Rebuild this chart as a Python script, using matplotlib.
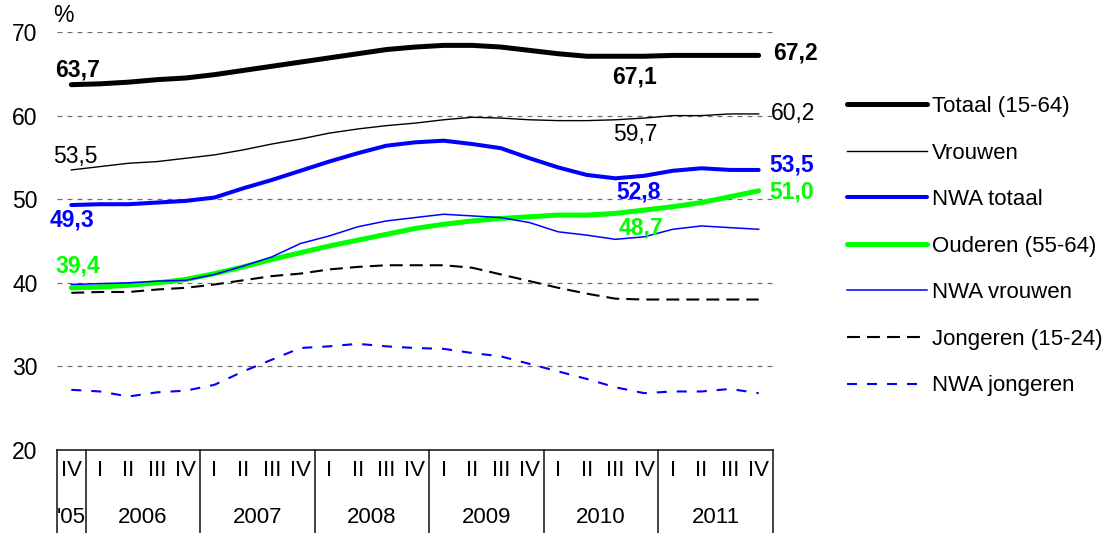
import matplotlib.pyplot as plt
import numpy as np

plt.rcParams['font.family'] = ['Liberation Sans', 'DejaVu Sans']

# kwartalen IV 2005 t/m IV 2011
quarters = ['IV'] + ['I', 'II', 'III', 'IV'] * 6
years = ["'05", '2006', '2007', '2008', '2009', '2010', '2011']

totaal = [63.7, 63.8, 64.0, 64.3, 64.5, 64.9, 65.4, 65.9, 66.4, 66.9, 67.4, 67.9, 68.2,
          68.4, 68.4, 68.2, 67.8, 67.4, 67.1, 67.1, 67.1, 67.2, 67.2, 67.2, 67.2]
vrouwen = [53.5, 53.9, 54.3, 54.5, 54.9, 55.3, 55.9, 56.6, 57.2, 57.9, 58.4, 58.8, 59.1,
           59.5, 59.8, 59.7, 59.5, 59.4, 59.4, 59.5, 59.7, 60.0, 60.0, 60.2, 60.2]
nwa_totaal = [49.3, 49.4, 49.4, 49.6, 49.8, 50.2, 51.3, 52.3, 53.4, 54.5, 55.5, 56.4, 56.8,
              57.0, 56.6, 56.1, 54.9, 53.8, 52.9, 52.5, 52.8, 53.4, 53.7, 53.5, 53.5]
ouderen = [39.4, 39.5, 39.7, 40.0, 40.4, 41.1, 41.9, 42.8, 43.6, 44.4, 45.1, 45.8, 46.5,
           47.0, 47.4, 47.7, 47.9, 48.1, 48.1, 48.3, 48.7, 49.1, 49.6, 50.3, 51.0]
nwa_vrouwen = [39.8, 39.9, 40.0, 40.2, 40.3, 41.0, 42.0, 43.1, 44.7, 45.6, 46.7, 47.4, 47.8,
               48.2, 48.0, 47.8, 47.2, 46.1, 45.7, 45.2, 45.5, 46.4, 46.8, 46.6, 46.4]
jongeren = [38.8, 38.9, 38.9, 39.2, 39.4, 39.8, 40.3, 40.8, 41.1, 41.6, 41.9, 42.1, 42.1,
            42.1, 41.8, 41.0, 40.2, 39.4, 38.7, 38.1, 38.0, 38.0, 38.0, 38.0, 38.0]
nwa_jongeren = [27.2, 27.0, 26.4, 26.9, 27.1, 27.8, 29.4, 30.8, 32.2, 32.4, 32.7, 32.4, 32.2,
                32.1, 31.6, 31.2, 30.3, 29.4, 28.5, 27.5, 26.8, 27.0, 27.0, 27.3, 26.8]

BLUE = '#0000ff'
GREEN = '#00ff00'

x = np.arange(len(quarters))

fig = plt.figure(figsize=(11.12, 5.33), dpi=100)
ax = fig.add_axes([57/1112, 1-450/533, (773-57)/1112, (450-32)/533])

ax.plot(x, totaal, color='black', lw=3.6, label='Totaal (15-64)', solid_capstyle='round')
ax.plot(x, vrouwen, color='black', lw=1.0, label='Vrouwen')
ax.plot(x, nwa_totaal, color=BLUE, lw=2.9, label='NWA totaal', solid_capstyle='round')
ax.plot(x, ouderen, color=GREEN, lw=3.6, label='Ouderen (55-64)', solid_capstyle='round')
ax.plot(x, nwa_vrouwen, color=BLUE, lw=1.1, label='NWA vrouwen')
ax.plot(x, jongeren, color='black', lw=1.5, dashes=(6.2, 3.4), label='Jongeren (15-24)')
ax.plot(x, nwa_jongeren, color=BLUE, lw=1.5, dashes=(4.8, 4.8), label='NWA jongeren')

ax.set_xlim(-0.5, len(x) - 0.5)
ax.set_ylim(20, 70)
ax.set_yticks(range(20, 71, 10))
ax.set_xticks([])
ax.tick_params(axis='y', length=0, pad=14, labelsize=16.5)
for s in ax.spines.values():
    s.set_visible(False)
ax.set_axisbelow(True)
ax.yaxis.grid(True, color='#707070', lw=0.9, linestyle=(0, (4, 4)))

fig.text(63/1112, 1-16/533, '%', fontsize=16.5, ha='center', va='center')

# waardelabels
bold = dict(fontsize=16.5, fontweight='bold', va='center')
ax.text(0.21, 65.45, '63,7', color='black', ha='center', **bold)
ax.text(0.14, 55.05, '53,5', color='black', ha='center', fontsize=16.5, va='center')
ax.text(0.03, 47.5, '49,3', color=BLUE, ha='center', **bold)
ax.text(0.24, 42.0, '39,4', color=GREEN, ha='center', **bold)
ax.text(19.65, 64.6, '67,1', color='black', ha='center', **bold)
ax.text(19.7, 57.7, '59,7', color='black', ha='center', fontsize=16.5, va='center')
ax.text(19.8, 50.9, '52,8', color=BLUE, ha='center', **bold)
ax.text(19.9, 46.55, '48,7', color=GREEN, ha='center', **bold)
ax.text(24.51, 67.5, '67,2', color='black', ha='left', **bold)
ax.text(24.44, 60.3, '60,2', color='black', ha='left', fontsize=16.5, va='center')
ax.text(24.38, 54.1, '53,5', color=BLUE, ha='left', **bold)
ax.text(24.38, 50.9, '51,0', color=GREEN, ha='left', **bold)

# tabel onder de grafiek
tr = ax.get_xaxis_transform()
bottom = -0.21
ax.plot([-0.5, len(x) - 0.5], [0, 0], transform=tr, color='#222222', lw=1.2, clip_on=False)
bounds = [-0.5, 0.5] + [0.5 + 4 * k for k in range(1, 7)]
for b in bounds:
    ax.plot([b, b], [0, bottom], transform=tr, color='#222222', lw=1.2, clip_on=False)
for i, q in enumerate(quarters):
    ax.text(i, -0.05, q, transform=tr, ha='center', va='center', fontsize=16)
for k, yr in enumerate(years):
    xc = 0 if k == 0 else (bounds[k] + bounds[k + 1]) / 2
    ax.text(xc, -0.162, yr, transform=tr, ha='center', va='center', fontsize=16)

fig.legend(loc='upper left', bbox_to_anchor=(847/1112, 1-96/533), frameon=False,
           fontsize=16, handlelength=3.6, handletextpad=0.22, labelspacing=1.15,
           borderpad=0, borderaxespad=0)

plt.savefig('out.png', dpi=100)
